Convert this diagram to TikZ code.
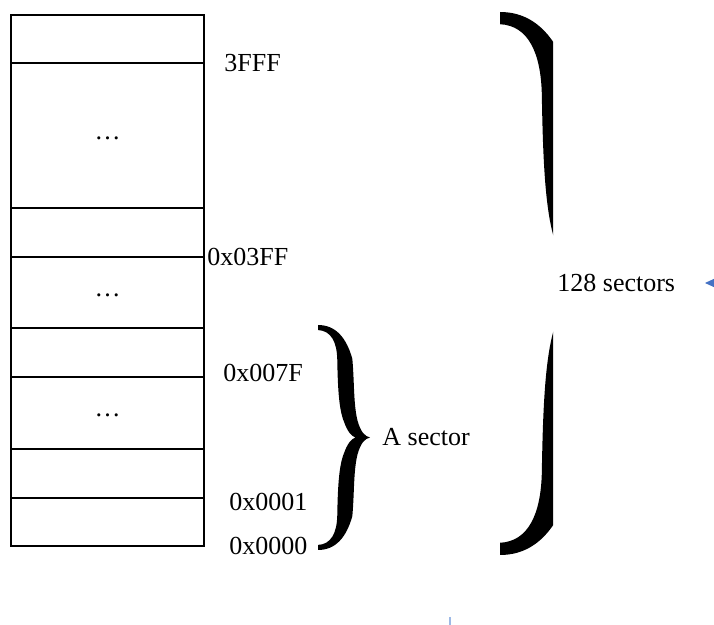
\documentclass[tikz,border=0pt]{standalone}
\usepackage{fontspec}
\setmainfont{Liberation Serif}
\usetikzlibrary{positioning, arrows.meta}
\usepackage{xcolor}
\definecolor{pointerblue}{HTML}{4472C4}
\definecolor{stubblue}{HTML}{9DB9E6}

\begin{document}
\begin{tikzpicture}[
        x=0.5pt, y=-0.5pt,
        node distance=0pt,
        cell/.style={
            rectangle,
            draw,
            line width=1pt,
            inner sep=0pt,
            outer sep=0pt,
            minimum width=96.5pt,
            font=\fontsize{13}{16}\selectfont
        },
        dotcell/.style={
            cell,
            text height=4pt,
            text depth=0pt
        },
        addr/.style={
            inner sep=0pt,
            font=\fontsize{13}{16}\selectfont
        },
        curly/.pic={
            \fill (0,0) .. controls (0.35,0) and (0.55,0.12) .. (0.66,0.3)
                .. controls (0.7,0.5) and (0.68,0.7) .. (0.76,0.85)
                .. controls (0.82,0.95) and (0.9,0.99) .. (1,1)
                .. controls (0.9,1.01) and (0.82,1.05) .. (0.76,1.15)
                .. controls (0.68,1.3) and (0.7,1.5) .. (0.66,1.7)
                .. controls (0.55,1.88) and (0.35,2) .. (0,2)
                -- (0,1.955)
                .. controls (0.25,1.95) and (0.36,1.85) .. (0.37,1.7)
                .. controls (0.38,1.45) and (0.4,1.25) .. (0.5,1.14)
                .. controls (0.56,1.06) and (0.64,1.01) .. (0.72,1)
                .. controls (0.64,0.99) and (0.56,0.94) .. (0.5,0.86)
                .. controls (0.4,0.75) and (0.38,0.55) .. (0.37,0.3)
                .. controls (0.36,0.15) and (0.25,0.05) .. (0,0.045)
                -- cycle;
        },
        pointer/.style={
            -{Triangle[length=4.5pt, width=4pt]},
            line width=0.5pt,
            pointerblue
        },
        stub/.style={
            line width=1pt,
            stubblue
        }
    ]
        \useasboundingbox (0,0) rectangle (714,625);

        % Memory column
        \node[cell, minimum height=24pt, anchor=north west] (row1) at (11,15) {};
        \node[dotcell, minimum height=72.5pt, below=of row1] (row2) {…};
        \node[cell, minimum height=24.5pt, below=of row2] (row3) {};
        \node[dotcell, minimum height=35.5pt, below=of row3] (row4) {…};
        \node[cell, minimum height=24.5pt, below=of row4] (row5) {};
        \node[dotcell, minimum height=36pt, below=of row5] (row6) {…};
        \node[cell, minimum height=24.5pt, below=of row6] (row7) {};
        \node[cell, minimum height=24pt, below=of row7] (row8) {};

        % Addresses
        \node[addr, right=10pt of row1.south east] (a3fff) {3FFF};
        \node[addr, right=1.5pt of row3.south east] (a03ff) {0x03FF};
        \node[addr, right=9.5pt of row5.south east, yshift=2pt] (a007f) {0x007F};
        \node[addr, right=12.5pt of row7.south east, yshift=-2pt] (a0001) {0x0001};
        \node[addr, right=12.5pt of row8.south east] (a0000) {0x0000};

        % One sector
        \pic[xscale=52, yscale=112.5] (sbrace) at (318,325) {curly};
        \node[addr, anchor=west] (onesec) at (382,437) {A sector};

        % All sectors, brace cut off on the right
        \begin{scope}
            \clip (0,0) rectangle (553,625);
            \pic[xscale=113, yscale=271.5] (bbrace) at (500,12) {curly};
        \end{scope}
        \node[addr, anchor=west] (allsec) at (557,283) {128 sectors};

        % Stray blue marks
        \coordinate (ptrstart) at (740,283);
        \coordinate (ptrend) at (705,283);
        \draw[pointer] (ptrstart) -- (ptrend);
        \coordinate (stubtop) at (450,617);
        \coordinate (stubend) at (450,630);
        \draw[stub] (stubtop) -- (stubend);

    \end{tikzpicture}
\end{document}
